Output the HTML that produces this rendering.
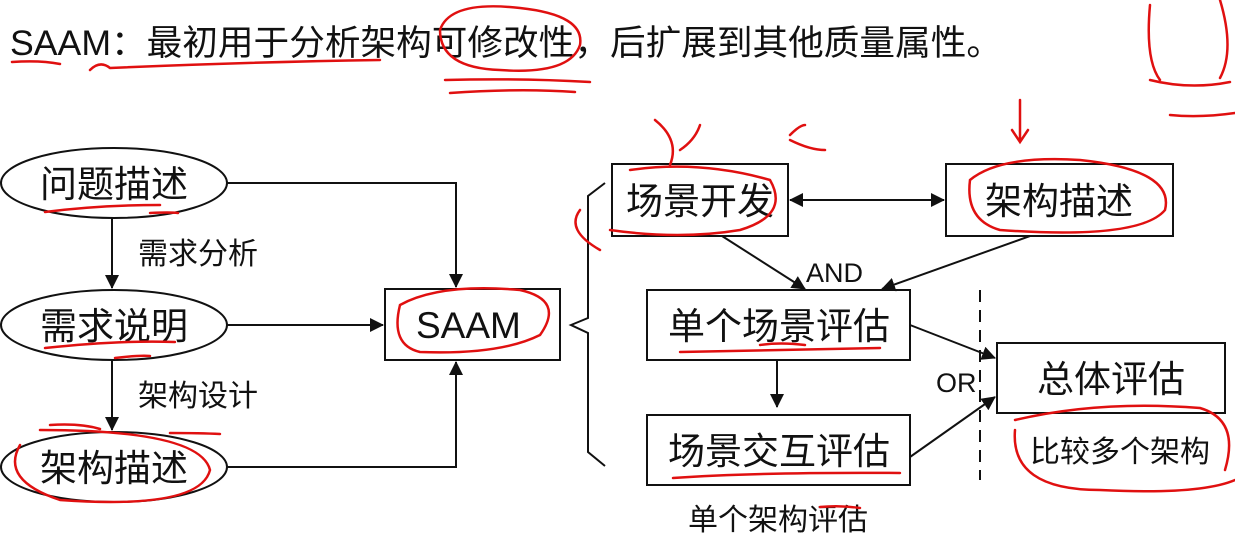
<!DOCTYPE html>
<html><head><meta charset="utf-8"><style>
html,body{margin:0;padding:0;background:#fff;}
svg{display:block;}
text{font-family:"Liberation Sans","Noto Sans CJK SC",sans-serif;fill:#111;}
</style></head><body>
<svg width="1235" height="538" viewBox="0 0 1235 538" xmlns="http://www.w3.org/2000/svg">
<defs>
<marker id="b" markerWidth="14" markerHeight="14" refX="13" refY="7" orient="auto-start-reverse" markerUnits="userSpaceOnUse"><path d="M0,0 L14,7 L0,14 z" fill="#111"/></marker>
</defs>
<text x="10" y="55" font-size="35" textLength="992" lengthAdjust="spacingAndGlyphs">SAAM：最初用于分析架构可修改性，后扩展到其他质量属性。</text>

<g stroke="#111" stroke-width="2" fill="none">
<ellipse cx="114" cy="183" rx="113" ry="35"/>
<ellipse cx="114" cy="325" rx="113" ry="35"/>
<ellipse cx="114" cy="467" rx="113" ry="35"/>
<rect x="385" y="289" width="175" height="71"/>
<line x1="112" y1="218" x2="112" y2="288" marker-end="url(#b)"/>
<line x1="112" y1="360" x2="112" y2="430" marker-end="url(#b)"/>
<polyline points="227,183 456,183 456,287" marker-end="url(#b)"/>
<line x1="227" y1="325" x2="383" y2="325" marker-end="url(#b)"/>
<polyline points="227,467 456,467 456,362" marker-end="url(#b)"/>
<polyline points="605,183 588,196 588,318 571,325 588,333 588,452 605,466"/>
<rect x="612" y="164" width="176" height="72"/>
<rect x="946" y="164" width="227" height="72"/>
<rect x="647" y="290" width="263" height="70"/>
<rect x="647" y="415" width="263" height="70"/>
<rect x="997" y="343" width="228" height="70"/>
<line x1="790" y1="200" x2="944" y2="200" marker-start="url(#b)" marker-end="url(#b)"/>
<line x1="722" y1="236" x2="805" y2="289" marker-end="url(#b)"/>
<line x1="1030" y1="236" x2="882" y2="289" marker-end="url(#b)"/>
<line x1="777" y1="360" x2="777" y2="407" marker-end="url(#b)"/>
<line x1="910" y1="325" x2="995" y2="358" marker-end="url(#b)"/>
<line x1="910" y1="457" x2="995" y2="397" marker-end="url(#b)"/>
<line x1="980" y1="290" x2="980" y2="480" stroke-dasharray="12,8"/>
</g>

<g font-size="37">
<text x="40" y="197">问题描述</text>
<text x="40" y="339">需求说明</text>
<text x="40" y="481">架构描述</text>
<text x="416" y="338">SAAM</text>
<text x="626" y="214">场景开发</text>
<text x="985" y="214">架构描述</text>
<text x="668" y="339">单个场景评估</text>
<text x="668" y="464">场景交互评估</text>
<text x="1037" y="392">总体评估</text>
</g>
<g font-size="30">
<text x="138" y="264">需求分析</text>
<text x="138" y="406">架构设计</text>
<text x="806" y="282" font-size="27">AND</text>
<text x="936" y="392" font-size="27">OR</text>
<text x="1030" y="462">比较多个架构</text>
<text x="688" y="530">单个架构评估</text>
</g>

<g stroke="#e01010" stroke-width="2.5" fill="none" stroke-linecap="round">
<path d="M12,62 Q40,60 60,64"/>
<path d="M90,70 Q100,60 110,68 Q250,62 380,60"/>
<path d="M440,30 Q450,0 520,8 Q585,15 580,45 Q570,75 500,70 Q440,68 440,30"/>
<path d="M445,80 Q520,78 590,82"/><path d="M450,93 Q520,88 575,92"/>
<path d="M1150,5 Q1145,60 1160,80 M1220,0 Q1235,50 1220,78 M1150,80 Q1190,90 1230,82 M1170,115 Q1200,118 1235,113"/>
<path d="M45,212 Q100,205 160,205 M150,213 Q170,212 178,213"/>
<path d="M45,348 Q120,340 175,342 M115,358 Q140,355 150,356"/>
<path d="M50,425 Q80,423 100,429 M170,433 Q200,433 220,434"/>
<path d="M20,445 Q0,480 60,500 Q200,510 210,470 Q200,430 40,430"/>
<path d="M400,305 Q440,283 520,290 Q565,300 540,335 Q500,355 420,352 Q390,345 400,305"/>
<path d="M630,170 Q700,160 770,180 Q790,215 740,230 Q680,240 610,230 M580,210 Q565,230 600,250"/>
<path d="M655,120 Q680,140 670,165 M680,150 Q695,140 700,125 M790,135 Q800,125 805,125 M790,140 Q810,150 825,150"/>
<path d="M1020,100 L1020,140 M1012,130 L1020,142 L1028,130"/>
<path d="M970,180 Q1000,155 1080,160 Q1175,170 1165,210 Q1140,240 1000,230 Q965,220 970,180"/>
<path d="M680,352 Q760,350 880,348 M760,345 Q780,342 805,345"/>
<path d="M673,478 Q760,472 900,473"/>
<path d="M1015,420 Q1100,400 1200,408 Q1240,420 1225,470 M1015,430 Q1010,490 1100,490 Q1200,495 1235,480"/>
<path d="M820,507 Q840,505 860,508"/>
</g>
</svg>
</body></html>
